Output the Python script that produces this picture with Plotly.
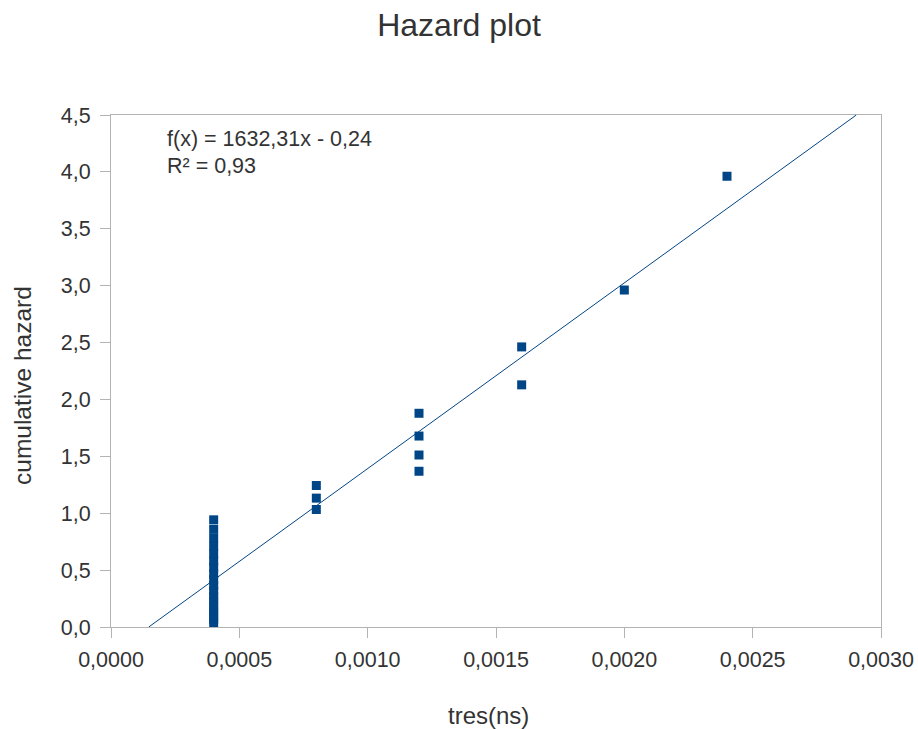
import plotly.graph_objects as go

# Failure times (ns) and the cumulative hazard at each failure
tres = [0.0004] * 18 + [0.0008] * 3 + [0.0012] * 4 + [0.0016] * 2 + [0.0020, 0.0024]
hazard = [
    0.0345, 0.0702, 0.1072, 0.1457, 0.1857, 0.2274, 0.2708, 0.3163, 0.3639,
    0.4139, 0.4665, 0.5221, 0.5809, 0.6434, 0.7101, 0.7815, 0.8584, 0.9418,
    1.0327, 1.1327, 1.2438,
    1.3688, 1.5117, 1.6783, 1.8783,
    2.1283, 2.4617,
    2.9617,
    3.9617,
]

# Linear trend line parameters
slope = 1632.31
intercept = -0.24
r_squared = 0.93

x_ticks = [0.0, 0.0005, 0.0010, 0.0015, 0.0020, 0.0025, 0.0030]
y_ticks = [0.0, 0.5, 1.0, 1.5, 2.0, 2.5, 3.0, 3.5, 4.0, 4.5]

y_min, y_max = 0.0, 4.5
x_min, x_max = 0.0, 0.003

# trend line endpoints where it crosses the y range
trend_x = [(y_min - intercept) / slope, (y_max - intercept) / slope]
trend_y = [slope * x + intercept for x in trend_x]

blue = "#004586"
text_color = "#333333"
frame = "#b3b3b3"
font_family = "Liberation Sans, Arial, sans-serif"

# plot area in pixels
W, H = 918, 729
L, R, T, B = 111, 37, 115, 102
pw, ph = W - L - R, H - T - B


def px_x(x):
    return (x - L) / pw


def px_y(y):
    return 1 - (y - T) / ph


fig = go.Figure()

fig.add_trace(go.Scatter(
    x=trend_x, y=trend_y, mode="lines",
    line=dict(color=blue, width=1),
    hoverinfo="skip", showlegend=False,
))

fig.add_trace(go.Scatter(
    x=tres, y=hazard, mode="markers",
    marker=dict(symbol="square", size=9, color=blue, line=dict(width=0)),
    showlegend=False,
))

eq_text = f"f(x) = {slope:.2f}x - {abs(intercept):.2f}".replace(".", ",")
r2_text = f"R² = {r_squared:.2f}".replace(".", ",")

fig.update_layout(
    width=W, height=H,
    margin=dict(l=L, r=R, t=T, b=B, autoexpand=False),
    paper_bgcolor="white", plot_bgcolor="white",
    separators=",.",
    font=dict(family=font_family, color=text_color, size=21),
    title=dict(
        text="Hazard plot", x=0.5, xanchor="center",
        y=1 - 25 / H, yanchor="middle", yref="container",
        font=dict(size=32, color=text_color, family=font_family),
    ),
    xaxis=dict(
        range=[x_min, x_max], tickvals=x_ticks, tickformat=".4f",
        showgrid=False, zeroline=False, automargin=False,
        showline=True, linecolor=frame, linewidth=1, mirror=True,
        ticks="outside", ticklen=10, tickcolor=frame,
        ticklabelstandoff=3,
        tickfont=dict(size=21.5, color=text_color),
    ),
    yaxis=dict(
        range=[y_min, y_max], tickvals=y_ticks, tickformat=".1f",
        showgrid=False, zeroline=False, automargin=False,
        showline=True, linecolor=frame, linewidth=1, mirror=True,
        ticks="outside", ticklen=10, tickcolor=frame,
        ticklabelstandoff=5,
        tickfont=dict(size=21.5, color=text_color),
    ),
    annotations=[
        dict(
            text=eq_text, xref="paper", yref="paper",
            x=px_x(165), y=px_y(139), xanchor="left", yanchor="middle",
            showarrow=False, font=dict(size=21.5, color=text_color),
        ),
        dict(
            text=r2_text, xref="paper", yref="paper",
            x=px_x(165), y=px_y(166), xanchor="left", yanchor="middle",
            showarrow=False, font=dict(size=21.5, color=text_color),
        ),
        dict(
            text="tres(ns)", xref="paper", yref="paper",
            x=px_x(488), y=px_y(715), xanchor="center", yanchor="middle",
            showarrow=False, font=dict(size=24, color=text_color),
        ),
        dict(
            text="cumulative hazard", xref="paper", yref="paper",
            x=px_x(22), y=px_y(386),
            xanchor="center", yanchor="middle", textangle=-90,
            showarrow=False, font=dict(size=24.5, color=text_color),
        ),
    ],
)

fig.write_html("out.html")
